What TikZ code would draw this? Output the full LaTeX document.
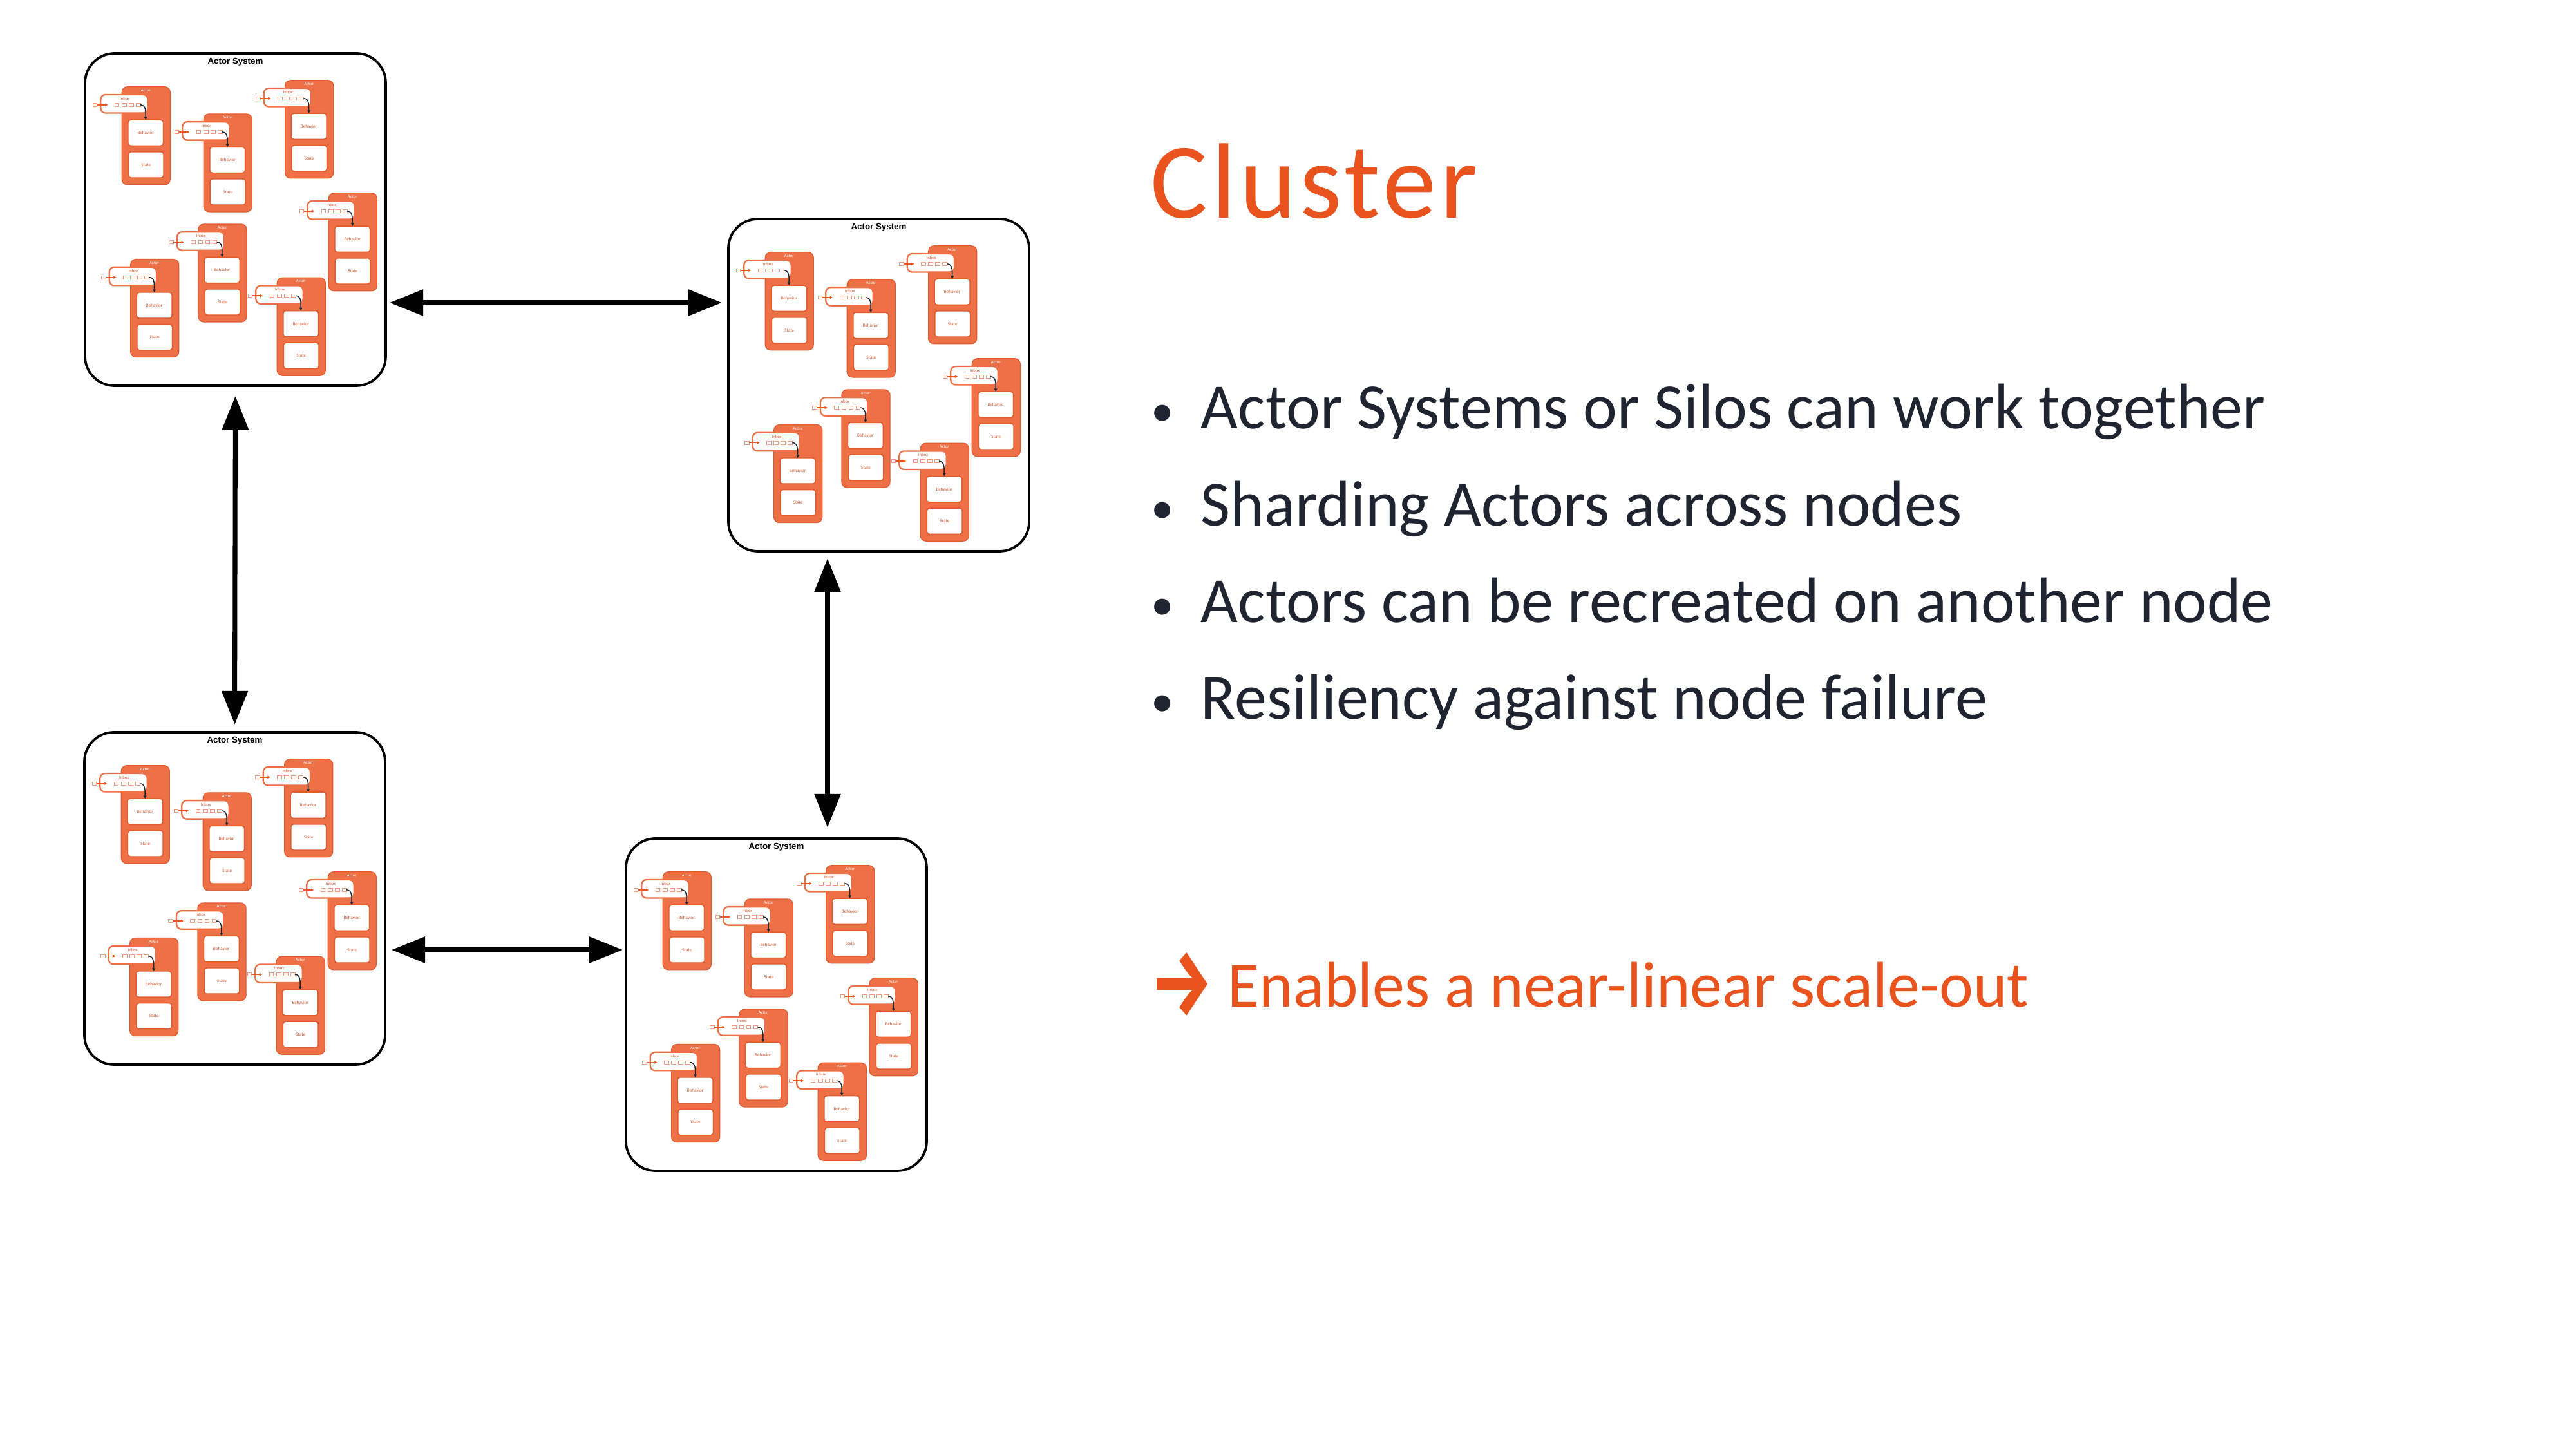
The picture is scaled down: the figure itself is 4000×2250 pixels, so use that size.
\documentclass[tikz,border=0pt]{standalone}
\usepackage{fontspec}
\setmainfont{Carlito}
\newfontfamily\sysfont{Liberation Sans}
\newfontfamily\arrowfont{Fira Sans}
\newfontfamily\titlefont[LetterSpace=3.5]{Carlito}
\usetikzlibrary{arrows.meta}
\definecolor{accent}{HTML}{E8531E}
\definecolor{darktext}{HTML}{1F2430}
\definecolor{actfill}{HTML}{EE7046}
\definecolor{actedge}{HTML}{E25C2E}
\definecolor{acttext}{HTML}{D65A32}
\definecolor{procink}{HTML}{1E2632}
\tikzset{
  sysbox/.style={draw=black, line width=0.9pt, rounded corners=11pt, minimum width=112.08pt, minimum height=123.84pt, inner sep=0pt, outer sep=0pt},
  systitle/.style={inner sep=0pt, font=\sysfont\bfseries\fontsize{3.2}{3.6}\selectfont},
  actbody/.style={draw=actedge, fill=actfill, line width=0.3pt, rounded corners=2pt, minimum width=18pt, minimum height=36.48pt, inner sep=0pt, outer sep=0pt},
  inboxbox/.style={draw=actfill, fill=white, line width=0.55pt, rounded corners=1.8pt, minimum width=17.6pt, minimum height=6.84pt, inner sep=0pt, outer sep=0pt},
  slotbox/.style={draw=actfill!70, fill=white, line width=0.2pt, minimum width=1.6pt, minimum height=1.2pt, inner sep=0pt, outer sep=0pt},
  partbox/.style={draw=actedge, fill=white, line width=0.4pt, rounded corners=1pt, minimum width=13.2pt, minimum height=9.7pt, inner sep=0pt, outer sep=0pt, font=\fontsize{1.7}{2}\selectfont, text=acttext},
  tinytext/.style={inner sep=0pt, font=\fontsize{1.6}{2}\selectfont},
  inarrow/.style={draw=accent, line width=0.35pt, -{Triangle[length=1pt,width=1pt]}},
  procarrow/.style={draw=procink, line width=0.35pt, -{Triangle[length=1.1pt,width=1.1pt]}},
  bigarrow/.style={draw=black, line width=1.7pt, {Triangle[length=12.5pt,width=9.5pt]}-{Triangle[length=12.5pt,width=9.5pt]}},
  titlestyle/.style={inner sep=0pt, text=accent, font=\titlefont\fontsize{40}{48}\selectfont},
  bodytext/.style={inner sep=0pt, text=darktext, font=\fontsize{24}{28.8}\selectfont},
  bulletmark/.style={inner sep=0pt, text=darktext, font=\fontsize{17}{20}\selectfont},
  accenttext/.style={inner sep=0pt, text=accent, font=\fontsize{24}{28.8}\selectfont},
  actor/.pic={
    \node[actbody] (-body) at (37.5,76) {};
    \node[tinytext, text=white] (-lbl) at (37,5.5) {Actor};
    \node[inboxbox] (-inbox) at (3.7,26.5) {};
    \node[tinytext, text=acttext] (-ilbl) at (4.4,18.5) {Inbox};
    \node[slotbox] (-s1) at (-8,28) {};
    \node[slotbox] (-s2) at (3.4,28) {};
    \node[slotbox] (-s3) at (14.4,28) {};
    \node[slotbox] (-s4) at (25.4,28) {};
    \node[slotbox] (-msg) at (-42,28) {};
    \draw[inarrow] (-msg.east) -- ++(16.5,0);
    \node[partbox] (-beh) at (36.9,71.5) {Behavior};
    \node[partbox] (-state) at (37.5,121.1) {State};
    \draw[procarrow] (-s4.east) .. controls +(9,0) and +(0,-12) .. (-beh.north);
  }
}
\newcommand{\actorsystem}[3]{%
  \begin{scope}[shift={(#2,#3)}]
    \node[sysbox] (#1) at (233.5,258) {};
    \node[systitle] (#1-title) at (233.5,13) {Actor System};
    \pic (#1a1) at (57.3,51.8) {actor};
    \pic (#1a2) at (184.3,93.9) {actor};
    \pic (#1a3) at (310.7,41.8) {actor};
    \pic (#1a4) at (378.3,216.8) {actor};
    \pic (#1a5) at (176,265) {actor};
    \pic (#1a6) at (70.7,319.6) {actor};
    \pic (#1a7) at (298.3,348.2) {actor};
  \end{scope}}
\begin{document}
\begin{tikzpicture}[x=0.24pt, y=-0.24pt]
  \fill[white] (0,0) rectangle (4000,2250);
  \useasboundingbox (0,0) rectangle (4000,2250);
  \actorsystem{sys1}{132}{83}
  \actorsystem{sys2}{1131}{340}
  \actorsystem{sys3}{131}{1137}
  \actorsystem{sys4}{972}{1302}
  \coordinate (y12) at (0,470);
  \coordinate (x24) at (1285,0);
  \coordinate (y34) at (0,1475);
  \draw[bigarrow, shorten <=1.44pt, shorten >=2.4pt] (sys1.east |- y12) -- (sys2.west |- y12);
  \draw[bigarrow, shorten <=3.8pt, shorten >=2.9pt] (sys1.south) -- (sys3.north);
  \draw[bigarrow, shorten <=2.64pt, shorten >=4.1pt] (sys2.south -| x24) -- (sys4.north -| x24);
  \draw[bigarrow, shorten <=2.4pt, shorten >=1.2pt] (sys3.east |- y34) -- (sys4.west |- y34);
  \node[titlestyle, anchor=base west] (title) at (1786,339) {Cluster};
  \node[bulletmark, anchor=base] (d1) at (1805,662) {•};
  \node[bodytext, anchor=base west] (b1) at (1864,666) {Actor Systems or Silos can work together};
  \node[bulletmark, anchor=base] (d2) at (1805,813) {•};
  \node[bodytext, anchor=base west] (b2) at (1864,817) {Sharding Actors across nodes};
  \node[bulletmark, anchor=base] (d3) at (1805,963) {•};
  \node[bodytext, anchor=base west] (b3) at (1864,967) {Actors can be recreated on another node};
  \node[bulletmark, anchor=base] (d4) at (1805,1113) {•};
  \node[bodytext, anchor=base west] (b4) at (1864,1117) {Resiliency against node failure};
  \node[accenttext, anchor=base west] (enable) at (1786,1564) {\raisebox{-3pt}{\scalebox{1}[1.35]{\arrowfont\bfseries\fontsize{26}{28}\selectfont →}} Enables a near-linear scale-out};
\end{tikzpicture}
\end{document}
